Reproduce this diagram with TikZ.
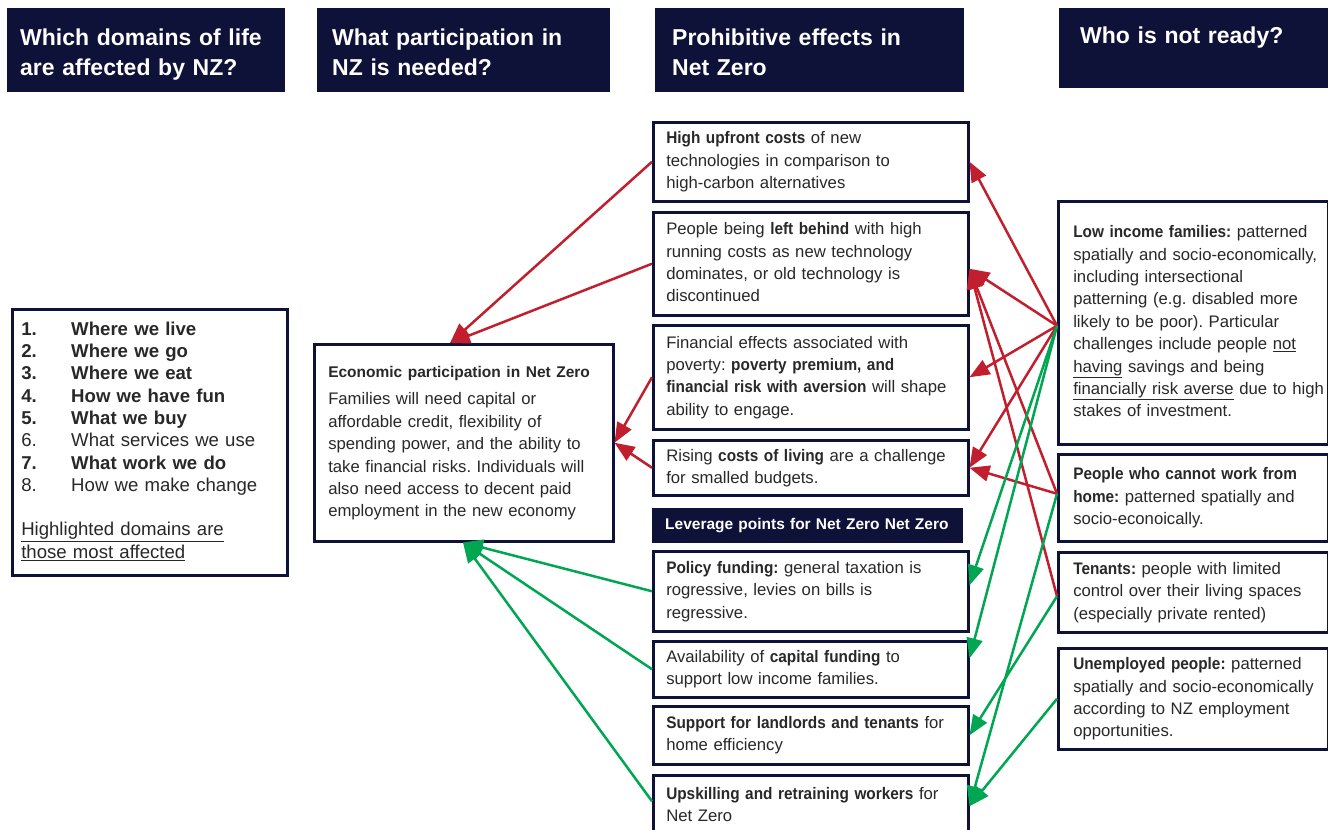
\documentclass[tikz,border=0pt]{standalone}
\usepackage{fontspec}
\setmainfont{Liberation Sans}
\newfontfamily\bodyboldfam{Liberation Sans}[FakeStretch=0.92]
\usetikzlibrary{arrows.meta,calc}
\definecolor{navy}{RGB}{14,17,56}
\definecolor{arrred}{RGB}{193,31,45}
\definecolor{arrgreen}{RGB}{0,166,81}
\definecolor{txt}{RGB}{40,40,40}
\frenchspacing
\newcommand{\bodyfont}{\fontsize{16.7}{22.4}\selectfont}
\newcommand{\hdrfont}{\fontsize{23}{30}\selectfont\bfseries}
\newcommand{\boxlines}[1]{\begin{tabular}{@{}l@{}}#1\end{tabular}}
\newcommand{\num}[1]{\makebox[50pt][l]{#1}}
\newcommand{\nzbold}[1]{{\bodyboldfam\bfseries #1}}
\newcommand{\hdrtext}[1]{\raisebox{0pt}[\dimexpr\height+8pt\relax][\depth]{\boxlines{#1}}}
\tikzset{
  box/.style={draw=navy, line width=2.5pt, fill=white, anchor=north west,
    inner xsep=13pt, inner ysep=0pt, align=left, text=txt, font=\bodyfont},
  hdr/.style={fill=navy, anchor=north west, inner ysep=0pt, align=left,
    text=white, font=\hdrfont},
  redarr/.style={draw=arrred, line width=2.5pt, -{Triangle[length=20pt,width=16pt]}},
  greenarr/.style={draw=arrgreen, line width=2.5pt, -{Triangle[length=20pt,width=16pt]}}
}
\begin{document}
\begin{tikzpicture}[x=1pt,y=-1pt]
\useasboundingbox (0,0) rectangle (1328,830);

% headers
\node[hdr, inner xsep=13pt, minimum width=278, minimum height=84, text width=252] (h1) at (7,8)
  {\hdrtext{Which domains of life\\are affected by NZ?}};
\node[hdr, inner xsep=15pt, minimum width=293, minimum height=84, text width=263] (h2) at (317,8)
  {\hdrtext{What participation in\\NZ is needed?}};
\node[hdr, inner xsep=17pt, minimum width=309, minimum height=84, text width=275] (h3) at (655,8)
  {\hdrtext{Prohibitive effects in\\Net Zero}};
\node[hdr, inner xsep=21pt, minimum width=269, minimum height=80, text width=227] (h4) at (1059,8)
  {\raisebox{0pt}[\height][\dimexpr\depth+22pt\relax]{Who is not ready?}};

% domains list
\node[box, inner xsep=9pt, minimum width=275, minimum height=266, text width=257,
  font=\fontsize{18.6}{22.3}\selectfont] (dom) at (11,308)
  {\boxlines{\textbf{\num{1.}Where we live}\\
  \textbf{\num{2.}Where we go}\\
  \textbf{\num{3.}Where we eat}\\
  \textbf{\num{4.}How we have fun}\\
  \textbf{\num{5.}What we buy}\\
  \num{6.}What services we use\\
  \textbf{\num{7.}What work we do}\\
  \num{8.}How we make change\\[22.3pt]
  \underline{Highlighted domains are}\\
  \underline{those most affected}}};

% economic participation
\node[box, inner xsep=14pt, minimum width=299, minimum height=197, text width=271] (econ) at (313,343)
  {\boxlines{{\fontsize{15.5}{20}\selectfont\bfseries Economic participation in Net Zero}\\[5pt]
  Families will need capital or\\
  affordable credit, flexibility of\\
  spending power, and the ability to\\
  take financial risks. Individuals will\\
  also need access to decent paid\\
  employment in the new economy}};

% prohibitive effects
\node[box, minimum width=315, minimum height=79, text width=289] (hu) at (652,121)
  {\boxlines{\nzbold{High upfront costs} of new\\
  technologies in comparison to\\
  high-carbon alternatives}};
\node[box, minimum width=315, minimum height=103, text width=289] (lb) at (652,211)
  {\boxlines{People being \nzbold{left behind} with high\\
  running costs as new technology\\
  dominates, or old technology is\\
  discontinued}};
\node[box, minimum width=315, minimum height=104, text width=289] (fe) at (652,324)
  {\boxlines{Financial effects associated with\\
  poverty: \nzbold{poverty premium, and}\\
  \nzbold{financial risk with aversion} will shape\\
  ability to engage.}};
\node[box, minimum width=315, minimum height=55, text width=289] (rc) at (652,439)
  {\boxlines{Rising \nzbold{costs of living} are a challenge\\
  for smalled budgets.}};

% leverage points
\node[hdr, inner xsep=13pt, minimum width=311, minimum height=35, text width=285,
  font=\fontsize{15.5}{20}\selectfont\bfseries] (lev) at (652,508)
  {Leverage points for Net Zero Net Zero};
\node[box, minimum width=315, minimum height=80, text width=289] (pf) at (652,550)
  {\boxlines{\nzbold{Policy funding:} general taxation is\\
  rogressive, levies on bills is\\
  regressive.}};
\node[box, minimum width=315, minimum height=56, text width=289] (cf) at (652,640)
  {\boxlines{Availability of \nzbold{capital funding} to\\
  support low income families.}};
\node[box, minimum width=315, minimum height=58, text width=289] (sl) at (652,705)
  {\boxlines{\nzbold{Support for landlords and tenants} for\\
  home efficiency}};
\node[box, minimum width=315, minimum height=62, text width=289] (up) at (652,774)
  {\boxlines{\nzbold{Upskilling and retraining workers} for\\
  Net Zero}};

% who is not ready
\node[box, inner xsep=15pt, minimum width=270, minimum height=243, text width=240] (li) at (1057,200)
  {\boxlines{\nzbold{Low income families:} patterned\\
  spatially and socio-economically,\\
  including intersectional\\
  patterning (e.g. disabled more\\
  likely to be poor). Particular\\
  challenges include people \underline{not}\\
  \underline{having} savings and being\\
  \underline{financially risk averse} due to high\\
  stakes of investment.}};
\node[box, inner xsep=15pt, minimum width=270, minimum height=87, text width=240] (pw) at (1057,453)
  {\boxlines{\nzbold{People who cannot work from}\\
  \nzbold{home:} patterned spatially and\\
  socio-econoically.}};
\node[box, inner xsep=15pt, minimum width=270, minimum height=80, text width=240] (te) at (1057,551)
  {\boxlines{\nzbold{Tenants:} people with limited\\
  control over their living spaces\\
  (especially private rented)}};
\node[box, inner xsep=15pt, minimum width=270, minimum height=101, text width=240] (un) at (1057,647)
  {\boxlines{\nzbold{Unemployed people:} patterned\\
  spatially and socio-economically\\
  according to NZ employment\\
  opportunities.}};

% connectors to economic participation
\coordinate (econTop) at ($(econ.north west)+(137,0)$);
\coordinate (econBot) at ($(econ.south west)+(150,0)$);
\draw[redarr] (hu.west) -- (econTop);
\draw[redarr] (lb.west) -- (econTop);
\draw[redarr] (fe.west) -- (econ.east);
\draw[redarr] (rc.west) -- (econ.east);
\draw[greenarr] (pf.west) -- (econBot);
\draw[greenarr] (cf.west) -- (econBot);
\draw[greenarr] ($(up.west)+(0,-5)$) -- (econBot);

% connectors from who is not ready
\coordinate (lbR) at ($(lb.east)+(0,5)$);
\coordinate (liL) at ($(li.west)+(0,3)$);
\coordinate (pwL) at ($(pw.west)+(0,-4)$);
\coordinate (teL) at ($(te.west)+(0,4)$);
\draw[redarr] (liL) -- (hu.east);
\draw[redarr] (liL) -- (lbR);
\draw[redarr] (liL) -- (fe.east);
\draw[redarr] (liL) -- (rc.east);
\draw[redarr] (pwL) -- (rc.east);
\draw[redarr] (pwL) -- (lbR);
\draw[redarr] (teL) -- (lbR);
\draw[greenarr] (liL) -- ($(pf.east)+(0,-6)$);
\draw[greenarr] (liL) -- ($(cf.east)+(0,-11)$);
\draw[greenarr] (pwL) -- (up.east);
\draw[greenarr] (teL) -- (sl.east);
\draw[greenarr] (un.west) -- (up.east);
\end{tikzpicture}
\end{document}
